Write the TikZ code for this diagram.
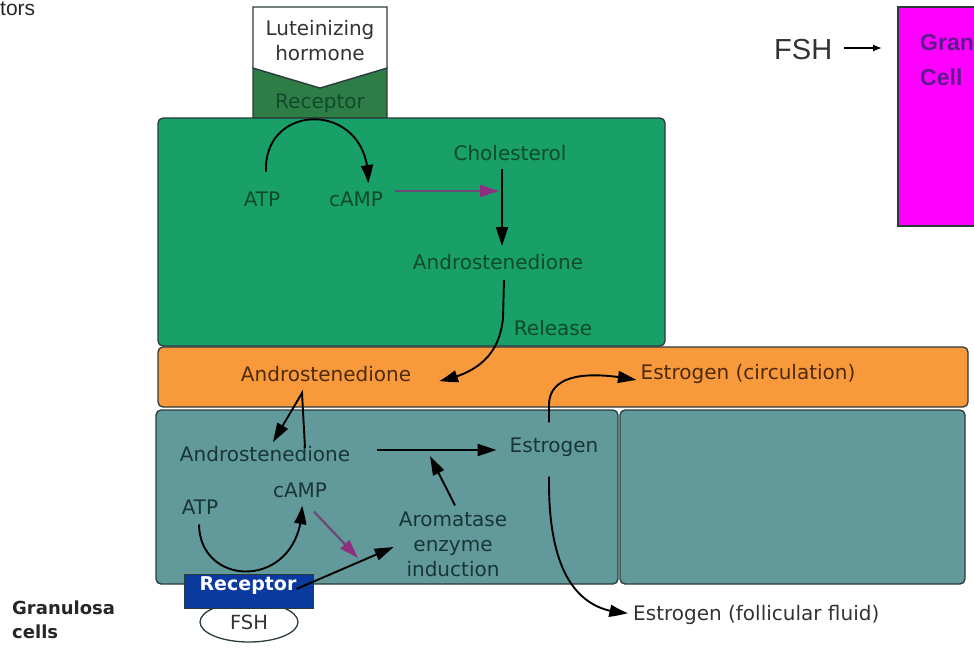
\documentclass[tikz,border=0pt]{standalone}
\usepackage{fontspec}
\setmainfont{DejaVu Sans}
\newfontfamily\arialf{Liberation Sans}
\usetikzlibrary{arrows.meta,bending,shapes.geometric}
\definecolor{cellgreen}{HTML}{18A068}
\definecolor{rgreen}{HTML}{2E7D46}
\definecolor{orangeband}{HTML}{F8993C}
\definecolor{tealcell}{HTML}{62999A}
\definecolor{rblue}{HTML}{0B3A9E}
\definecolor{boxline}{HTML}{2B3B3B}
\definecolor{gtext}{HTML}{0F4A2A}
\definecolor{otext}{HTML}{4D2A0C}
\definecolor{ttext}{HTML}{183636}
\definecolor{purparrow}{HTML}{6C4A78}
\definecolor{purphead}{HTML}{8E2F80}
\definecolor{magtext}{HTML}{5E1A8E}
\definecolor{magbox}{HTML}{FF00FF}
\begin{document}
\begin{tikzpicture}[x=1pt,y=-1pt,
  cellbox/.style={draw=boxline, line width=1.3pt, rounded corners=5pt},
  lbl/.style={inner sep=0pt, font=\fontsize{20}{25}\selectfont, align=center},
  arr/.style={-{Triangle[length=19pt,width=12pt,bend]}, line width=1.9pt, black},
  parr/.style={-{Triangle[length=19pt,width=12pt,color=purphead]}, line width=2.2pt, purparrow}]
\useasboundingbox (0,0) rectangle (974,649);
\clip (0,0) rectangle (974,649);

% top-left label
\node[anchor=base west, inner sep=0pt, font=\arialf\fontsize{21}{24}\selectfont, text=black!85] (tors) at (0,15.5) {tors};

% LH hormone and receptor
\path[draw=boxline, fill=rgreen, line width=1.3pt] (253,68) -- (320,88) -- (387,68) -- (387,118) -- (253,118) -- cycle;
\path[draw=boxline, fill=white, line width=1.3pt] (253,7) -- (387,7) -- (387,68) -- (320,88) -- (253,68) -- cycle;
\node[lbl, text=black!80] (lh) at (320,41) {Luteinizing\\hormone};
\node[lbl, text=gtext] (lhrec) at (320,103) {Receptor};

% cells
\path[cellbox, fill=cellgreen] (158,118) rectangle (665,346);
\path[cellbox, fill=orangeband] (158,347) rectangle (968,407);
\path[cellbox, fill=tealcell] (156,410) rectangle (618,584);
\path[cellbox, fill=tealcell] (620,410) rectangle (965,584);

% magenta box
\path[draw=boxline, fill=magbox, line width=1.3pt] (898,7) rectangle (990,226);
\node[anchor=west, inner sep=0pt, font=\arialf\bfseries\fontsize{23}{26}\selectfont, text=magtext] (gran) at (920,43) {Gran};
\node[anchor=west, inner sep=0pt, font=\arialf\bfseries\fontsize{23}{26}\selectfont, text=magtext] (cellm) at (920,77) {Cell};
\node[anchor=west, inner sep=0pt, font=\arialf\fontsize{29}{32}\selectfont, text=black!80] (fshtop) at (774,50) {FSH};
\coordinate (fshend) at (882,48);
\draw[-{Latex[length=9pt,width=7pt]}, line width=1.3pt] ([xshift=12pt,yshift=2pt]fshtop.east) -- (fshend);

% green cell labels
\node[lbl, text=gtext] (atp1) at (262,199) {ATP};
\node[lbl, text=gtext] (camp1) at (356,199) {cAMP};
\node[lbl, text=gtext] (chol) at (510,153) {Cholesterol};
\node[lbl, text=gtext] (andro1) at (498,262) {Androstenedione};
\node[lbl, text=gtext] (release) at (553,328) {Release};

% orange labels
\node[lbl, text=otext] (andro2) at (326,374) {Androstenedione};
\node[lbl, text=otext] (estcirc) at (748,374) {Estrogen (circulation)};

% teal labels
\node[lbl, text=ttext] (andro3) at (265,454) {Androstenedione};
\node[lbl, text=ttext] (estr) at (554,447) {Estrogen};
\node[lbl, text=ttext] (atp2) at (200,507) {ATP};
\node[lbl, text=ttext] (camp2) at (300,490) {cAMP};
\node[lbl, text=ttext] (arom) at (453,544) {Aromatase\\enzyme\\induction};

% outside labels
\node[anchor=west, inner sep=0pt, font=\fontsize{20}{25}\selectfont, text=black!80] (estfol) at (633,615) {Estrogen (follicular fluid)};
\node[anchor=west, inner sep=0pt, font=\bfseries\fontsize{18}{24}\selectfont, text=black!85, align=left] (granlbl) at (12,620) {Granulosa\\cells};

% FSH receptor (bottom)
\node[ellipse, draw=boxline, fill=white, line width=1.3pt, minimum width=98pt, minimum height=40pt, inner sep=0pt, font=\fontsize{19.5}{21}\selectfont, text=black!80] (fsh) at (249,622) {\raisebox{-4pt}{FSH}};
\path[draw=boxline, fill=rblue, line width=1pt] (184,574) rectangle (313,608);
\node[inner sep=0pt, font=\bfseries\fontsize{19}{22}\selectfont, text=white] (rec2) at (248,586) {Receptor};

% green cell arrows
\draw[arr] ([xshift=4pt,yshift=20pt]atp1.north) .. controls (263,100) and (372,100) .. ([xshift=12pt,yshift=8pt]camp1.north);
\coordinate (cholmid) at (499,191);
\draw[parr] ([xshift=12pt,yshift=8pt]camp1.east) -- (cholmid);
\draw[arr] ([xshift=-8pt,yshift=-8pt]chol.south) -- ([xshift=4pt,yshift=8pt]andro1.north);
\draw[arr] ([xshift=6pt,yshift=-10pt]andro1.south) -- (503,318) .. controls (500,348) and (485,372) .. ([xshift=28pt,yshift=-7pt]andro2.east);

% orange -> teal
\draw[arr] (305,448) -- (302,393) -- ([xshift=8pt,yshift=4pt]andro3.north);

% teal arrows
\draw[arr] ([xshift=27pt,yshift=4pt]andro3.east) -- ([xshift=-13pt,yshift=-3pt]estr.west);
\coordinate (aromtarget) at (430,456);
\draw[arr] ([xshift=2pt,yshift=6pt]arom.north) -- (aromtarget);
\draw[arr] ([xshift=-1pt,yshift=-10pt]atp2.south) .. controls (200,590) and (302,590) .. ([xshift=2pt,yshift=-8pt]camp2.south);
\coordinate (purptip) at (358,558);
\draw[parr] ([xshift=14pt,yshift=-14pt]camp2.south) -- (purptip);
\draw[arr] ([yshift=-12pt]rec2.north east) -- ([xshift=-5pt,yshift=-3pt]arom.west);

% estrogen outflows
\draw[arr] (estr.north -| 549,0) ++(0,-15) -- (549,405) .. controls (549,380) and (575,368) .. ([xshift=-4pt,yshift=-6pt]estcirc.west);
\draw[arr] (estr.south -| 549,0) ++(0,20) .. controls (548,560) and (570,612) .. ([xshift=-5pt,yshift=2pt]estfol.west);
\end{tikzpicture}
\end{document}
